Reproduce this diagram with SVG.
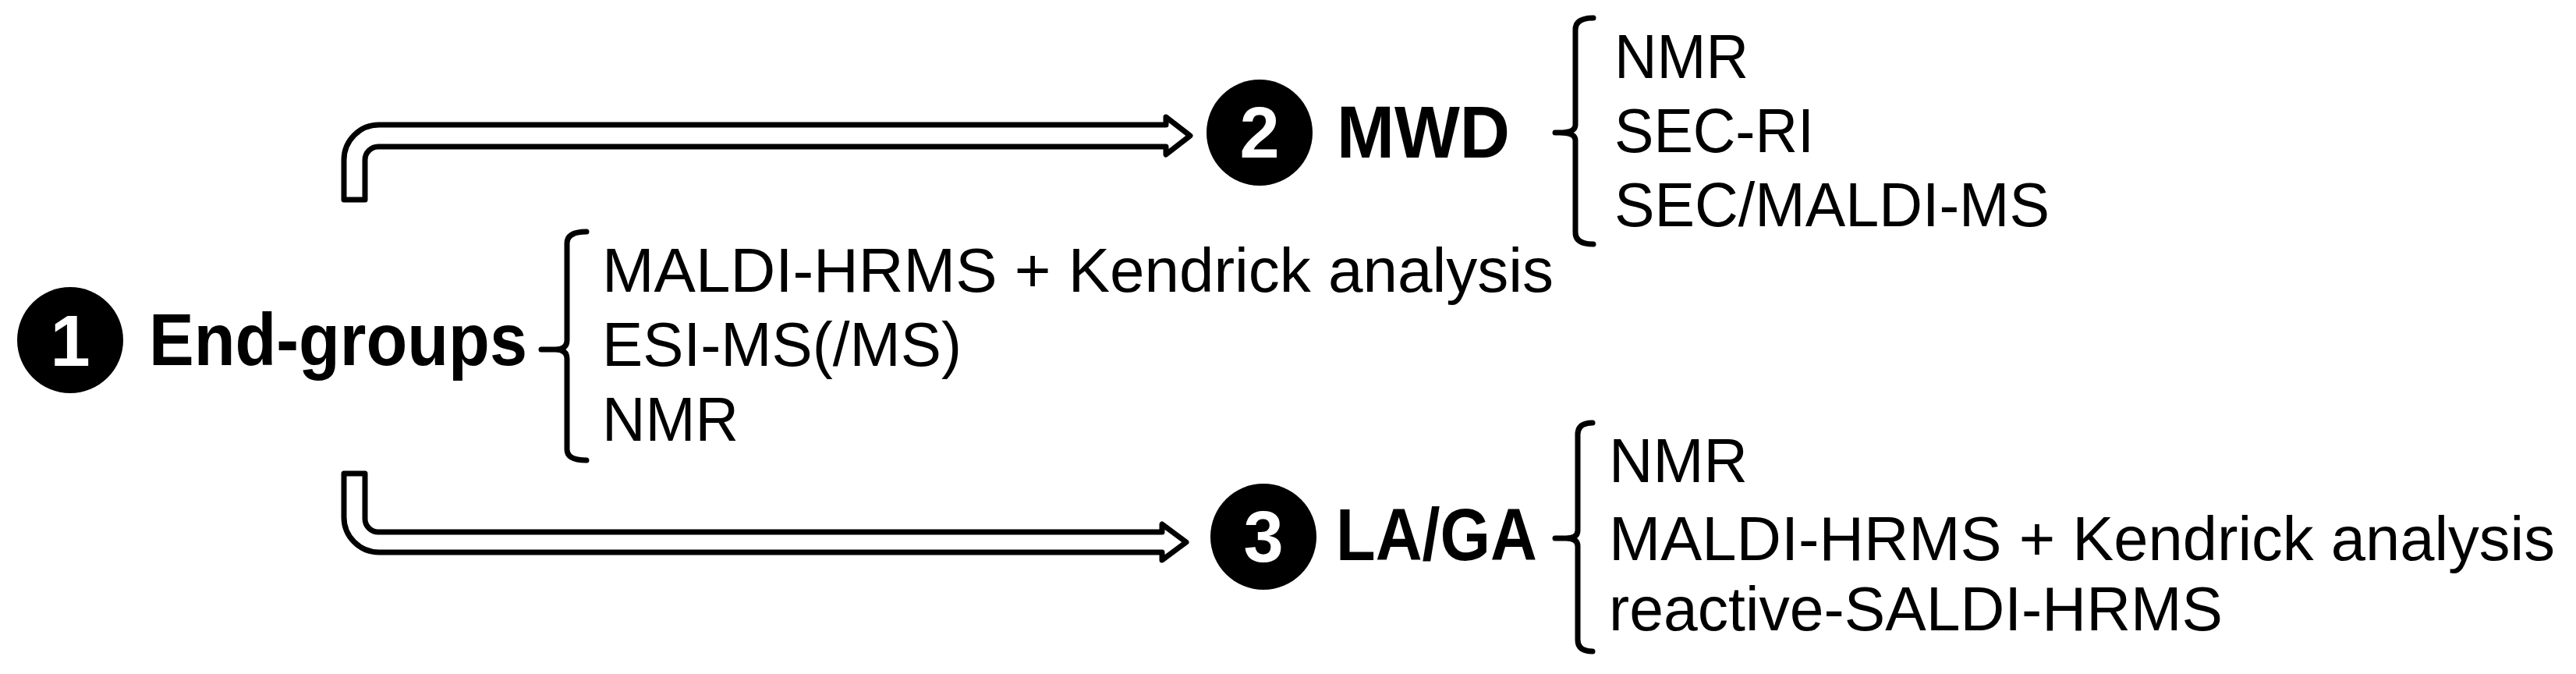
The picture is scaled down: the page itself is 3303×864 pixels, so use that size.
<svg xmlns="http://www.w3.org/2000/svg" width="3303" height="864" viewBox="0 0 3303 864">
<style>
.arrow{fill:#fff;stroke:#000;stroke-width:7;stroke-linejoin:round}
.br{fill:none;stroke:#000;stroke-width:7;stroke-linecap:round;stroke-linejoin:round}
.num{font-family:"Liberation Sans",Arial,sans-serif;font-weight:bold;font-size:92px;fill:#fff;text-anchor:middle}
.head{font-family:"Liberation Sans",Arial,sans-serif;font-weight:bold;font-size:94px;fill:#000}
.item{font-family:"Liberation Sans",Arial,sans-serif;font-size:80px;fill:#000}
</style>
<rect width="3303" height="864" fill="#fff"/>
<g id="connectors">
<path class="arrow" d="M441,256 L441,205 A45,45 0 0 1 486,160 L1495,160 L1495,150 L1526,174 L1495,198 L1495,188 L485,188 A17,17 0 0 0 468,205 L468,256 Z"/>
<path class="arrow" d="M441,607 L441,663 A45,45 0 0 0 486,708 L1490,708 L1490,718 L1521,695 L1490,672 L1490,682 L485,682 A17,17 0 0 1 468,665 L468,607 Z"/>
</g>
<g id="node1">
<circle cx="90" cy="436" r="68" fill="#000"/>
<text class="num" x="90" y="469">1</text>
<text class="head" x="191" y="468" textLength="485" lengthAdjust="spacingAndGlyphs">End-groups</text>
<path class="br" d="M752,297 Q727,297 727,312 L727,436 Q727,448 712,448 L694,448 M712,448 Q727,448 727,460 L727,576 Q727,590 752,590"/>
<text class="item" x="772" y="374" textLength="1220" lengthAdjust="spacingAndGlyphs">MALDI-HRMS + Kendrick analysis</text>
<text class="item" x="772" y="469" textLength="461" lengthAdjust="spacingAndGlyphs">ESI-MS(/MS)</text>
<text class="item" x="772" y="565" textLength="175" lengthAdjust="spacingAndGlyphs">NMR</text>
</g>
<g id="node2">
<circle cx="1615" cy="170" r="68" fill="#000"/>
<text class="num" x="1615" y="202">2</text>
<text class="head" x="1714" y="202" textLength="222" lengthAdjust="spacingAndGlyphs">MWD</text>
<path class="br" d="M2043,23 Q2020,23 2020,38 L2020,160 Q2020,170 2000,170 L1994,170 M2000,170 Q2020,170 2020,180 L2020,298 Q2020,313 2043,313"/>
<text class="item" x="2070" y="100" textLength="172" lengthAdjust="spacingAndGlyphs">NMR</text>
<text class="item" x="2070" y="195" textLength="256" lengthAdjust="spacingAndGlyphs">SEC-RI</text>
<text class="item" x="2070" y="290" textLength="558" lengthAdjust="spacingAndGlyphs">SEC/MALDI-MS</text>
</g>
<g id="node3">
<circle cx="1620" cy="688" r="68" fill="#000"/>
<text class="num" x="1620" y="720">3</text>
<text class="head" x="1713" y="718" textLength="258" lengthAdjust="spacingAndGlyphs">LA/GA</text>
<path class="br" d="M2042,542 Q2023,542 2023,557 L2023,680 Q2023,690 2008,690 L1994,690 M2008,690 Q2023,690 2023,700 L2023,820 Q2023,835 2042,835"/>
<text class="item" x="2063" y="618" textLength="178" lengthAdjust="spacingAndGlyphs">NMR</text>
<text class="item" x="2063" y="718" textLength="1213" lengthAdjust="spacingAndGlyphs">MALDI-HRMS + Kendrick analysis</text>
<text class="item" x="2063" y="808" textLength="787" lengthAdjust="spacingAndGlyphs">reactive-SALDI-HRMS</text>
</g>
</svg>
